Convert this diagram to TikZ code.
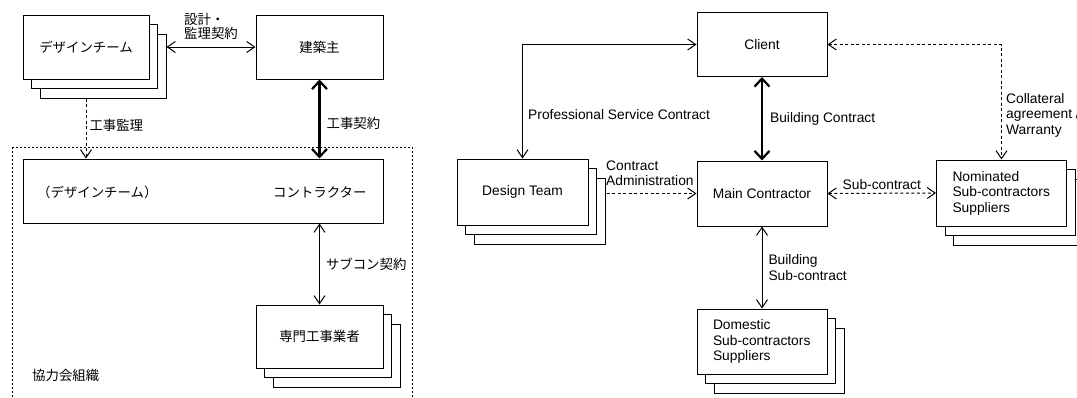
\documentclass[tikz,border=0pt]{standalone}
\usepackage{fontspec}
\setmainfont{Liberation Sans}
\newfontfamily\jpfont{Noto Sans CJK JP}
\usetikzlibrary{positioning, arrows.meta, shadows}

\begin{document}
\begin{tikzpicture}[x=1pt, y=-1pt,
    font=\fontsize{13.8}{15.5}\selectfont,
    jp/.style={font=\jpfont\fontsize{13.4}{13.5}\selectfont},
    box/.style={draw, line width=1pt, fill=white, inner sep=0pt, minimum width=#1, minimum height=64pt},
    box/.default=130pt,
    stack/.style={box=#1, copy shadow={shadow xshift=17pt, shadow yshift=-19pt}, copy shadow={shadow xshift=8.5pt, shadow yshift=-9.5pt}},
    stack/.default=130pt,
    listbox/.style={stack, align=left, text width=98pt, inner xsep=16pt},
    link/.style={line width=1pt, {Straight Barb[length=8pt, width=11pt]}-{Straight Barb[length=8pt, width=11pt]}},
    mainlink/.style={line width=2.2pt, {Straight Barb[length=8pt, width=15pt]}-{Straight Barb[length=8pt, width=15pt]}},
    dashlink/.style={link, dash pattern=on 3pt off 2.5pt},
    admin/.style={line width=1pt, dash pattern=on 3pt off 2.5pt, -{Straight Barb[length=8pt, width=11pt]}},
    lbl/.style={anchor=west, align=left, inner sep=0pt}]
    \useasboundingbox (0,0) rectangle (1077,397);

    % Japanese organisation
    \draw[line width=1pt, dash pattern=on 2pt off 2pt] (12,147) rectangle (412,420);
    \node (jdesign) [stack=126pt, jp] at (86,47) {デザインチーム};
    \node (jowner) [box=127pt, jp] at (319.5,47) {建築主};
    \node (jcontr) [box=360pt] at (203,191) {};
    \node (jsub) [stack=127pt, minimum height=63pt, jp] at (319.5,336.5) {専門工事業者};
    \node (jdin) [lbl, jp] at (37,192) {（デザインチーム）};
    \node (jcin) [lbl, jp] at (273,192) {コントラクター};
    \node (jorg) [lbl, jp] at (32,375) {協力会組織};

    \draw[link] ([xshift=17pt]jdesign.east) -- (jowner.west)
        node (jdc) [midway, above=4pt, jp, align=left] {設計・\\監理契約};
    \draw[admin] ([yshift=-19pt]jdesign.south) -- (jdesign.south |- jcontr.north)
        node (jsv) [lbl, jp, pos=0.45, xshift=3pt] {工事監理};
    \draw[mainlink] (jowner.south) -- (jowner.south |- jcontr.north)
        node (jbc) [lbl, jp, pos=0.55, xshift=6pt] {工事契約};
    \draw[link] (jsub.north |- jcontr.south) -- (jsub.north)
        node (jsc) [lbl, jp, pos=0.5, xshift=6pt] {サブコン契約};

    % UK organisation
    \node (client) [box] at (762,44.5) {Client};
    \node (design) [stack=131pt, minimum height=66pt] at (522.5,192) {Design Team};
    \node (main) [box, minimum height=65pt] at (762,193.5) {Main Contractor};
    \node (nominated) [listbox, minimum height=66pt] at (1001.5,193) {Nominated\\Sub-contractors\\Suppliers};
    \node (domestic) [listbox, minimum height=65pt] at (762,341.5) {Domestic\\Sub-contractors\\Suppliers};

    \draw[link] (client.west) -| (design.north);
    \node (psc) [lbl] at (528,115) {Professional Service Contract};
    \draw[mainlink] (client.south) -- (main.north)
        node (bc) [lbl, midway, xshift=7pt] {Building Contract};
    \draw[admin] ([xshift=18pt]design.east |- main.west) -- (main.west);
    \node (ca) [lbl, anchor=south west] at (606,186) {Contract\\Administration};
    \draw[dashlink] (main.east) -- (nominated.west)
        node (sc) [midway, above=3pt, inner sep=0pt] {Sub-contract};
    \draw[dashlink] (client.east) -| (nominated.north);
    \node (cw) [lbl] at (1006,115) {Collateral\\agreement /\\Warranty};
    \draw[link] (main.south) -- (domestic.north)
        node (bsc) [lbl, midway, xshift=6pt] {Building\\Sub-contract};
\end{tikzpicture}
\end{document}
